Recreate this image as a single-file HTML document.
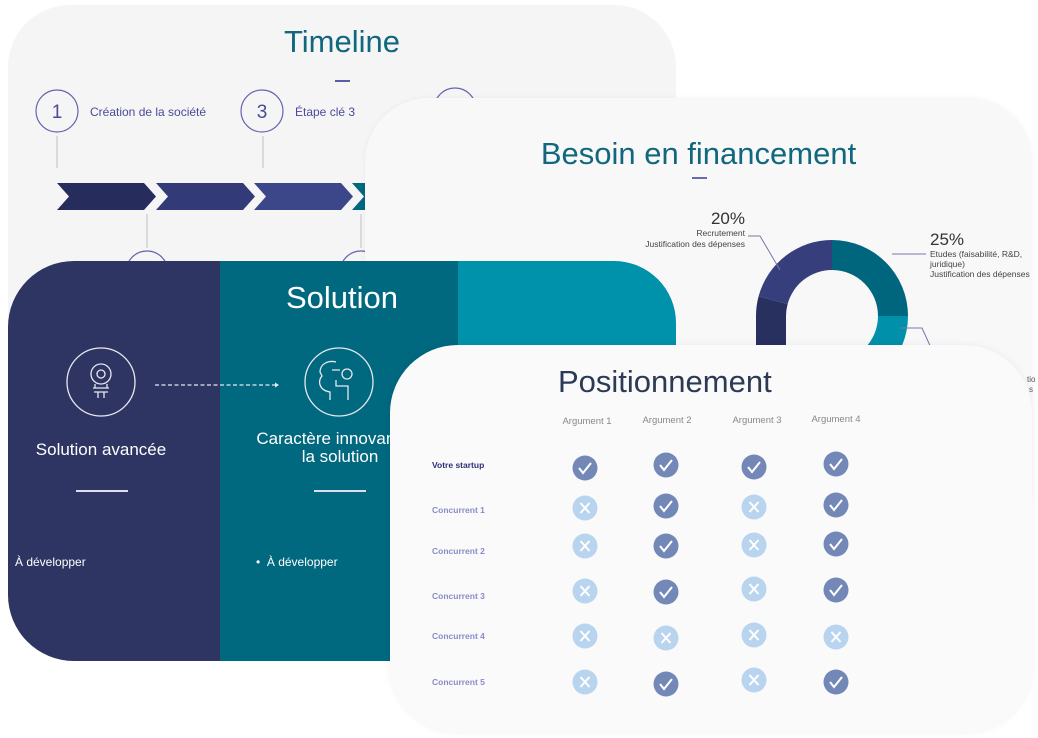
<!DOCTYPE html>
<html><head><meta charset="utf-8"><style>
body{margin:0;width:1038px;height:738px;background:#fff;position:relative;overflow:hidden;font-family:"Liberation Sans",sans-serif}
.a{position:absolute}
.t{position:absolute;white-space:nowrap}
</style></head><body>

<!-- Timeline card -->
<div class="a" style="left:8px;top:5px;width:668px;height:400px;background:#f5f5f5;border-radius:62px 62px 0 0;"></div>
<div class="t" style="left:0;width:684px;text-align:center;top:24px;font-size:31px;color:#10677e;">Timeline</div>
<div class="a" style="left:335px;top:80px;width:15px;height:2px;background:#5c5ca6"></div>
<svg class="a" style="left:0;top:0" width="680" height="300">
<g fill="none" stroke="#6464b0" stroke-width="1.2">
<circle cx="57" cy="111" r="21"/><circle cx="262" cy="111" r="21"/><circle cx="455" cy="109" r="21"/>
<circle cx="147" cy="272" r="21"/><circle cx="361" cy="272" r="21"/>
</g>
<g stroke="#c8c8c8" stroke-width="1.2">
<line x1="57" y1="136" x2="57" y2="168"/><line x1="263" y1="136" x2="263" y2="168"/>
<line x1="147" y1="214" x2="147" y2="248"/><line x1="361" y1="214" x2="361" y2="248"/>
</g>
<polygon points="57,183 144,183 156,196.5 144,210 57,210 69,196.5" fill="#262c5c"/>
<polygon points="156,183 243,183 255,196.5 243,210 156,210 168,196.5" fill="#323a78"/>
<polygon points="254,183 341,183 353,196.5 341,210 254,210 266,196.5" fill="#3c478a"/>
<polygon points="352,183 440,183 452,196.5 440,210 352,210 364,196.5" fill="#00687f"/>
<text x="57" y="118" font-size="19" fill="#4a4a9a" text-anchor="middle" font-family="Liberation Sans">1</text>
<text x="262" y="118" font-size="19" fill="#4a4a9a" text-anchor="middle" font-family="Liberation Sans">3</text>
<text x="90" y="116" font-size="12" fill="#4a4a9a" font-family="Liberation Sans">Création de la société</text>
<text x="295" y="116" font-size="12" fill="#4a4a9a" font-family="Liberation Sans">Étape clé 3</text>
</svg>

<!-- Besoin card -->
<div class="a" style="left:365px;top:98px;width:667px;height:400px;background:#f8f8f9;border-radius:64px 64px 0 0;box-shadow:0 0 6px rgba(0,0,0,0.05)"></div>
<div class="t" style="left:365px;width:667px;text-align:center;top:136px;font-size:31px;color:#10677e;">Besoin en financement</div>
<div class="a" style="left:692px;top:177px;width:15px;height:2px;background:#6a6ab0"></div>
<svg class="a" style="left:600px;top:190px" width="438" height="200">
<g transform="translate(232,126)">
<path d="M0,-76 A76,76 0 0 1 76,0 L46,0 A46,46 0 0 0 0,-46 Z" fill="#00667d"/>
<path d="M76,0 A76,76 0 0 1 0,76 L0,46 A46,46 0 0 0 46,0 Z" fill="#0090aa"/>
<path d="M0,-76 A76,76 0 0 0 -73.4,-19.7 L-44.4,-11.9 A46,46 0 0 1 0,-46 Z" fill="#363e7c"/>
<path d="M-73.4,-19.7 A76,76 0 0 0 -76,0 L-76,76 L-46,76 L-46,0 A46,46 0 0 1 -44.4,-11.9 Z" fill="#283060"/>
</g>
<polyline points="148,46 160,46 180,80" fill="none" stroke="#7878a8" stroke-width="1"/>
<polyline points="292,64 326,64" fill="none" stroke="#7878a8" stroke-width="1"/>
<line x1="307" y1="110" x2="307" y2="110"/>
<polyline points="300,138 322,138 332,160" fill="none" stroke="#7878a8" stroke-width="1"/>
<text x="145" y="34" font-size="17" fill="#333" text-anchor="end" font-family="Liberation Sans">20%</text>
<text x="145" y="46" font-size="8.5" fill="#444" text-anchor="end" font-family="Liberation Sans">Recrutement</text>
<text x="145" y="57" font-size="8.5" fill="#444" text-anchor="end" font-family="Liberation Sans">Justification des dépenses</text>
<text x="330" y="55" font-size="17" fill="#333" font-family="Liberation Sans">25%</text>
<text x="330" y="67" font-size="8.5" fill="#444" font-family="Liberation Sans">Etudes (faisabilité, R&amp;D,</text>
<text x="330" y="77" font-size="8.5" fill="#444" font-family="Liberation Sans">juridique)</text>
<text x="330" y="87" font-size="8.5" fill="#444" font-family="Liberation Sans">Justification des dépenses</text>
</svg>

<!-- Solution card -->
<div class="a" style="left:8px;top:261px;width:668px;height:400px;border-radius:66px 62px 0 66px;overflow:hidden;">
<div class="a" style="left:0;top:0;width:212px;height:400px;background:#2f3563"></div>
<div class="a" style="left:212px;top:0;width:238px;height:400px;background:#00687f"></div>
<div class="a" style="left:450px;top:0;width:218px;height:400px;background:#0091ab"></div>
</div>
<div class="t" style="left:220px;width:244px;text-align:center;top:280px;font-size:31px;color:#fff;">Solution</div>
<svg class="a" style="left:0;top:330px" width="400" height="110">
<g fill="none" stroke="#e8e8f0" stroke-width="1.3">
<circle cx="101" cy="52" r="34"/><circle cx="339" cy="52" r="34"/>
<line x1="155" y1="55" x2="275" y2="55" stroke-dasharray="4 2.5"/>
<circle cx="101" cy="44" r="10"/><circle cx="101" cy="44" r="4"/>
<path d="M95,54 L95,58 M107,54 L107,58 M93,58 L109,58 M94,62 L108,62 M98,62 L98,68 M104,62 L104,68"/>
<path d="M330,70 L330,62 C318,60 318,50 322,46 L320,42 C320,34 328,30 336,32 M342,44 A5,5 0 1 0 352,44 A5,5 0 1 0 342,44 M336,50 L336,56 L348,56 L348,70 M332,40 L340,40"/>
</g>
<polygon points="275,52.5 279,55 275,57.5" fill="#e8e8f0"/>
</svg>
<div class="t" style="left:0;width:202px;text-align:center;top:440px;font-size:17px;color:#fff;">Solution avancée</div>
<div class="t" style="left:220px;width:240px;text-align:center;top:430px;font-size:17px;color:#fff;line-height:18px;">Caractère innovant de<br>la solution</div>
<div class="a" style="left:76px;top:490px;width:52px;height:1.5px;background:#dde"></div>
<div class="a" style="left:314px;top:490px;width:52px;height:1.5px;background:#dde"></div>
<div class="t" style="left:15px;top:555px;font-size:12px;color:#fff;">À développer</div>
<div class="t" style="left:256px;top:555px;font-size:12px;color:#fff;">•&nbsp;&nbsp;À développer</div>

<!-- Positionnement card -->
<div class="a" style="left:390px;top:345px;width:642px;height:387px;background:#fafafa;border-radius:68px 68px 66px 68px;box-shadow:0 0 8px rgba(0,0,0,0.06)"></div>
<div class="t" style="left:558px;top:364px;font-size:31px;color:#2d3a55;">Positionnement</div>
<div class="t" style="left:1027px;top:375px;font-size:8px;color:#555;">tio</div>
<div class="t" style="left:1029px;top:385px;font-size:8px;color:#555;">s</div>
<svg class="a" style="left:390px;top:400px" width="642" height="320" font-family="Liberation Sans">
<g font-size="9.5" fill="#888" text-anchor="middle">
<text x="197" y="24">Argument 1</text><text x="277" y="23">Argument 2</text><text x="367" y="23">Argument 3</text><text x="446" y="22">Argument 4</text>
</g>
<g font-size="8.5" font-weight="bold">
<text x="42" y="68" fill="#2e2e7a">Votre startup</text>
<text x="42" y="113" fill="#8a8ac8">Concurrent 1</text>
<text x="42" y="154" fill="#8a8ac8">Concurrent 2</text>
<text x="42" y="199" fill="#8a8ac8">Concurrent 3</text>
<text x="42" y="239" fill="#8a8ac8">Concurrent 4</text>
<text x="42" y="285" fill="#8a8ac8">Concurrent 5</text>
</g>
<defs>
<g id="c"><circle r="12.5" fill="#7488b8"/><path d="M-6,0 L-2,5 L6,-5" fill="none" stroke="#fff" stroke-width="2"/></g>
<g id="x"><circle r="12.5" fill="#b9d4ee"/><path d="M-4.5,-5 L4.5,5 M4.5,-5 L-4.5,5" fill="none" stroke="#fff" stroke-width="2"/></g>
</defs>
<use href="#c" x="195" y="68"/><use href="#c" x="276" y="65"/><use href="#c" x="364" y="67"/><use href="#c" x="446" y="64"/>
<use href="#x" x="195" y="108"/><use href="#c" x="276" y="106"/><use href="#x" x="364" y="107"/><use href="#c" x="446" y="105"/>
<use href="#x" x="195" y="146"/><use href="#c" x="276" y="146"/><use href="#x" x="364" y="145"/><use href="#c" x="446" y="144"/>
<use href="#x" x="195" y="191"/><use href="#c" x="276" y="192"/><use href="#x" x="364" y="189"/><use href="#c" x="446" y="190"/>
<use href="#x" x="195" y="236"/><use href="#x" x="276" y="238"/><use href="#x" x="364" y="235"/><use href="#x" x="446" y="237"/>
<use href="#x" x="195" y="282"/><use href="#c" x="276" y="284"/><use href="#x" x="364" y="280"/><use href="#c" x="446" y="282"/>
</svg>
</body></html>
